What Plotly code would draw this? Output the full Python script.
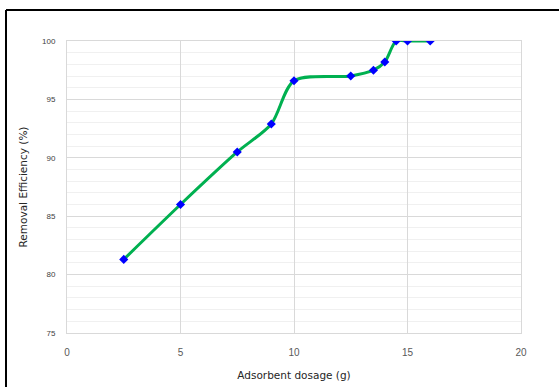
import plotly.graph_objects as go

dosage = [2.5, 5, 7.5, 9, 10, 12.5, 13.5, 14, 14.5, 15, 16]
efficiency = [81.3, 86.0, 90.5, 92.9, 96.6, 97.0, 97.5, 98.2, 100, 100, 100]
x_ticks = [0, 5, 10, 15, 20]
y_ticks = [75, 80, 85, 90, 95, 100]

W, H = 559, 387
L, R, T, B = 67, 38, 41, 54
pw, ph = W - L - R, H - T - B

def px(xpix):
    return (xpix - L) / pw

def py(ypix):
    return (H - B - ypix) / ph

fig = go.Figure()
fig.add_trace(go.Scatter(
    x=dosage, y=efficiency, mode="lines+markers",
    line=dict(color="#00B050", width=3, shape="spline", smoothing=0.8),
    marker=dict(symbol="diamond", color="#0000FF", size=7, line=dict(width=0)),
    showlegend=False,
))

title_font = "DejaVu Sans, Verdana, sans-serif"

fig.update_layout(
    width=W, height=H,
    margin=dict(l=L, r=R, t=T, b=B),
    paper_bgcolor="white", plot_bgcolor="white",
    font=dict(family="Liberation Sans, Arial, sans-serif", color="#404040"),
    xaxis=dict(
        range=[0, 20], tickvals=x_ticks, showgrid=True, gridcolor="#d9d9d9", gridwidth=1,
        zeroline=False, showline=True, linecolor="#d9d9d9", mirror=True,
        tickfont=dict(size=10, color="#595959"), ticks="", ticklen=0,
        ticklabelstandoff=10, automargin=False,
        title=dict(text="Adsorbent dosage (g)",
                   font=dict(family=title_font, size=10.5, color="#262626"), standoff=14),
    ),
    yaxis=dict(
        range=[75, 100], tickvals=y_ticks, showgrid=True, gridcolor="#d9d9d9", gridwidth=1,
        zeroline=False, showline=True, linecolor="#d9d9d9", mirror=True,
        tickfont=dict(size=8, color="#404040"), ticks="",
        ticklabelstandoff=9, automargin=False,
        minor=dict(dtick=1, showgrid=True, gridcolor="#f0f0f0", gridwidth=1),
        title=dict(text="Removal Efficiency (%)",
                   font=dict(family=title_font, size=10.5, color="#262626"), standoff=12),
    ),
)

# outer chart border (top and left edges visible in the crop)
fig.add_shape(type="line", xref="paper", yref="paper",
              x0=px(6), x1=px(W + 5), y0=py(10), y1=py(10),
              line=dict(color="black", width=2))
fig.add_shape(type="line", xref="paper", yref="paper",
              x0=px(6), x1=px(6), y0=py(10), y1=py(H + 5),
              line=dict(color="black", width=2))

fig.write_html(
    "out.html",
    config={"displayModeBar": False},
    post_script="document.body.style.margin='0';document.body.style.overflow='hidden';",
)
